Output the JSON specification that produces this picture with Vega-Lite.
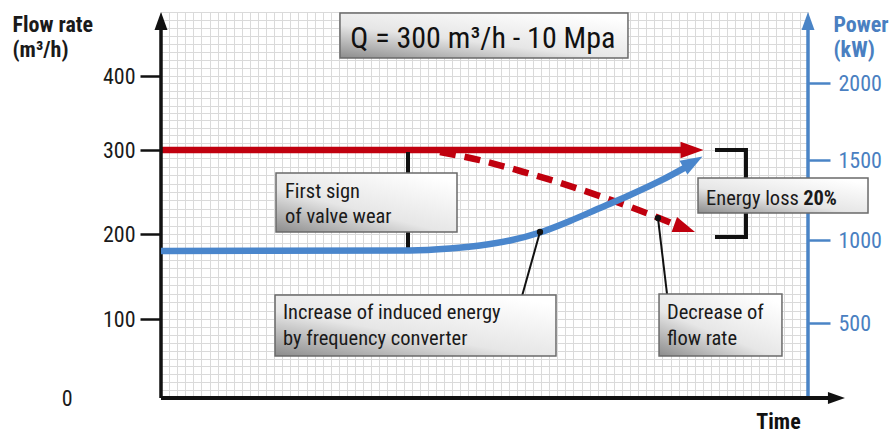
{
  "$schema": "https://vega.github.io/schema/vega-lite/v6.json",
  "width": 647,
  "height": 386,
  "autosize": {"type": "none"},
  "padding": {"left": 161, "top": 12, "right": 85, "bottom": 35},
  "background": "white",
  "config": {
    "view": {"stroke": null},
    "font": "Roboto Condensed, Liberation Sans Narrow, Arial Narrow, DejaVu Sans Condensed, sans-serif",
    "axis": {"labelFont": "Roboto Condensed, Liberation Sans Narrow, Arial Narrow, DejaVu Sans Condensed, sans-serif", "titleFont": "Roboto Condensed, Liberation Sans Narrow, Arial Narrow, DejaVu Sans Condensed, sans-serif"},
    "text": {"font": "Roboto Condensed, Liberation Sans Narrow, Arial Narrow, DejaVu Sans Condensed, sans-serif"}
  },
  "datasets": {
    "flowLine": [{"x": 0, "y": 300}, {"x": 64.3, "y": 300}],
    "flowDrop": [
      {"x": 34.5, "y": 297.6}, {"x": 39.4, "y": 288}, {"x": 44.4, "y": 275},
      {"x": 49.3, "y": 261}, {"x": 54.3, "y": 245}, {"x": 59.2, "y": 228}, {"x": 63.6, "y": 211.3}
    ],
    "power": [
      {"x": 0, "p": 934}, {"x": 30.79, "p": 937}, {"x": 35.73, "p": 949}, {"x": 39.44, "p": 967},
      {"x": 43.15, "p": 997}, {"x": 46.86, "p": 1047}, {"x": 50.57, "p": 1119}, {"x": 54.28, "p": 1200},
      {"x": 57.99, "p": 1281}, {"x": 61.7, "p": 1369}, {"x": 64.91, "p": 1456}
    ],
    "powerArrow": [{"x": 65.78, "p": 1487}],
    "wearMarker": [{"x": 30.54, "y": 297.6, "y2": 183.5}],
    "bracket": [
      {"x": 68.5, "y": 300, "step": 0}, {"x": 72.33, "y": 300, "step": 1},
      {"x": 72.33, "y": 196.5, "step": 2}, {"x": 68.5, "y": 196.5, "step": 3}
    ],
    "verticalAxes": [{"axis": "flow", "x": 0, "y": 0, "y2": 460}],
    "powerAxisLine": [{"axis": "power", "x": 80, "y": 0, "y2": 460}],
    "timeAxis": [{"x": 0, "x2": 82.6, "y": 0}],
    "arrows": [
      {"name": "flow", "x": 65.66, "y": 300},
      {"name": "drop", "x": 64.75, "y": 206.9},
      {"name": "flowAxis", "x": 0, "y": 468.75},
      {"name": "powerAxis", "x": 80, "y": 468.75},
      {"name": "time", "x": 83.52, "y": 0}
    ],
    "boxes": [
      {"box": "heading", "x": 22.13, "x2": 57.74, "y": 478.75, "y2": 422.5},
      {"box": "wear", "x": 14.22, "x2": 36.6, "y": 272.6, "y2": 202.4},
      {"box": "loss", "x": 66.4, "x2": 87.42, "y": 266.7, "y2": 225},
      {"box": "increase", "x": 14.1, "x2": 48.84, "y": 128.2, "y2": 53.2},
      {"box": "decrease", "x": 61.58, "x2": 76.78, "y": 129.4, "y2": 53.2}
    ],
    "leaders": [
      {"x": 46.86, "y": 202.4, "x2": 44.64, "y2": 127},
      {"x": 61.45, "y": 219, "x2": 62.57, "y2": 129.4}
    ],
    "dots": [{"x": 46.86, "y": 202.4}, {"x": 61.45, "y": 219}],
    "labels": [
      {"x": 15.33, "y": 242.9, "text": "First sign"},
      {"x": 15.33, "y": 213.1, "text": "of valve wear"},
      {"x": 15.08, "y": 100, "text": "Increase of induced energy"},
      {"x": 15.08, "y": 67.1, "text": "by frequency converter"},
      {"x": 62.57, "y": 100, "text": "Decrease of"},
      {"x": 62.57, "y": 67.1, "text": "flow rate"},
      {"x": 67.39, "y": 234.5, "text": "Energy loss"}
    ],
    "boldLabels": [{"x": 79.4, "y": 234.5, "text": "20%"}],
    "heading": [{"x": 39.8, "y": 435, "text": "Q = 300 m³/h - 10 Mpa"}]
  },
  "resolve": {"scale": {"y": "independent"}},
  "layer": [
    {
      "encoding": {
        "x": {
          "field": "x", "type": "quantitative",
          "scale": {"domain": [0, 80], "nice": false, "zero": false},
          "axis": {
            "orient": "bottom", "tickCount": 80, "grid": true, "gridColor": "#dadada", "gridWidth": 1,
            "labels": false, "ticks": false, "domain": false,
            "title": "Time", "titleFontSize": 22, "titleFontWeight": "bold", "titleColor": "#111111",
            "titleX": 617, "titleY": 30, "titleAlign": "center", "titleBaseline": "alphabetic"
          }
        },
        "y": {
          "field": "y", "type": "quantitative",
          "scale": {"domain": [0, 100, 200, 300, 400, 480], "range": [386, 307, 222, 138, 64, 0], "nice": false, "zero": false},
          "axis": {
            "orient": "left",
            "values": [0,10,20,30,40,50,60,70,80,90,100,110,120,130,140,150,160,170,180,190,200,210,220,230,240,250,260,270,280,290,300,310,320,330,340,350,360,370,380,390,400,410,420,430,440,450,460,470,480],
            "grid": true, "gridColor": "#dadada", "gridWidth": 1,
            "domain": false,
            "ticks": true, "tickSize": 21, "tickWidth": 2.5, "tickColor": "#111111",
            "tickOpacity": {"condition": {"test": "datum.value % 100 === 0 && datum.value > 0 && datum.value <= 400", "value": 1}, "value": 0},
            "labelExpr": "(datum.value % 100 === 0 && datum.value <= 400) ? datum.label : ''",
            "labelPadding": {"condition": {"test": "datum.value === 0", "value": 68}, "value": 5},
            "labelFontSize": 22, "labelColor": "#1a1a1a", "labelOverlap": false, "labelFlush": false,
            "title": ["Flow rate", "(m³/h)"], "titleAngle": 0, "titleX": -149, "titleY": 19,
            "titleAlign": "left", "titleBaseline": "alphabetic", "titleFontSize": 22, "titleFontWeight": "bold",
            "titleLineHeight": 25, "titleColor": "#1a1a1a"
          }
        }
      },
      "layer": [
        {"data": {"name": "flowLine"}, "mark": {"type": "line", "color": "#c0000e", "strokeWidth": 6.5, "strokeCap": "butt"}},
        {"data": {"name": "flowDrop"}, "mark": {"type": "line", "color": "#c0000e", "strokeWidth": 6.5, "strokeCap": "butt", "strokeDash": [16, 9], "interpolate": "monotone"}},
        {"data": {"name": "wearMarker"}, "mark": {"type": "rule", "color": "#111111", "strokeWidth": 4}, "encoding": {"y2": {"field": "y2"}}},
        {"data": {"name": "bracket"}, "mark": {"type": "line", "color": "#111111", "strokeWidth": 4, "strokeJoin": "miter", "strokeCap": "butt"}, "encoding": {"order": {"field": "step", "type": "quantitative"}}},
        {"data": {"name": "verticalAxes"}, "mark": {"type": "rule", "color": "#111111", "strokeWidth": 3.5}, "encoding": {"y2": {"field": "y2"}}},
        {"data": {"name": "powerAxisLine"}, "mark": {"type": "rule", "color": "#4a84c6", "strokeWidth": 3.5}, "encoding": {"y2": {"field": "y2"}}},
        {"data": {"name": "timeAxis"}, "mark": {"type": "rule", "color": "#111111", "strokeWidth": 4}, "encoding": {"x2": {"field": "x2"}}},
        {"data": {"name": "arrows"}, "transform": [{"filter": "datum.name === 'flow'"}],
         "mark": {"type": "point", "shape": "M 1 0 L -1 -0.72 L -1 0.72 Z", "filled": true, "opacity": 1, "size": 529, "angle": 0, "color": "#c0000e"}},
        {"data": {"name": "arrows"}, "transform": [{"filter": "datum.name === 'drop'"}],
         "mark": {"type": "point", "shape": "M 1 0 L -1 -0.72 L -1 0.72 Z", "filled": true, "opacity": 1, "size": 484, "angle": 20, "color": "#c0000e"}},
        {"data": {"name": "arrows"}, "transform": [{"filter": "datum.name === 'flowAxis'"}],
         "mark": {"type": "point", "shape": "M 1 0 L -1 -0.72 L -1 0.72 Z", "filled": true, "opacity": 1, "size": 324, "angle": -90, "color": "#111111"}},
        {"data": {"name": "arrows"}, "transform": [{"filter": "datum.name === 'powerAxis'"}],
         "mark": {"type": "point", "shape": "M 1 0 L -1 -0.72 L -1 0.72 Z", "filled": true, "opacity": 1, "size": 324, "angle": -90, "color": "#4a84c6"}},
        {"data": {"name": "arrows"}, "transform": [{"filter": "datum.name === 'time'"}],
         "mark": {"type": "point", "shape": "M 1 0 L -1 -0.72 L -1 0.72 Z", "filled": true, "opacity": 1, "size": 289, "angle": 0, "color": "#111111"}}
      ]
    },
    {
      "data": {"name": "power"},
      "encoding": {
        "x": {
          "field": "x", "type": "quantitative",
          "scale": {"domain": [0, 80], "nice": false, "zero": false},
          "axis": {
            "orient": "bottom", "tickCount": 80, "grid": true, "gridColor": "#dadada", "gridWidth": 1,
            "labels": false, "ticks": false, "domain": false,
            "title": "Time", "titleFontSize": 22, "titleFontWeight": "bold", "titleColor": "#111111",
            "titleX": 617, "titleY": 30, "titleAlign": "center", "titleBaseline": "alphabetic"
          }
        },
        "y": {
          "field": "p", "type": "quantitative",
          "scale": {"domain": [0, 500, 1000, 1500, 2000, 2460], "range": [391, 311, 228, 148, 71, 0], "nice": false, "zero": false},
          "axis": {
            "orient": "right", "values": [500, 1000, 1500, 2000], "format": "d",
            "grid": false, "domain": false,
            "tickSize": 22, "tickWidth": 2.5, "tickColor": "#4a84c6",
            "labelPadding": 8, "labelFontSize": 22, "labelColor": "#4a7fc1", "labelOverlap": false, "labelFlush": false,
            "title": ["Power", "(kW)"], "titleAngle": 0, "titleX": 25, "titleY": 19,
            "titleAlign": "left", "titleBaseline": "alphabetic", "titleFontSize": 22, "titleFontWeight": "bold",
            "titleLineHeight": 25, "titleColor": "#4a7fc1"
          }
        }
      },
      "layer": [
        {"mark": {"type": "line", "color": "#4a86cc", "strokeWidth": 6.5, "strokeCap": "butt", "interpolate": "monotone"}},
        {"data": {"name": "powerArrow"}, "mark": {"type": "point", "shape": "M 1 0 L -1 -0.72 L -1 0.72 Z", "filled": true, "opacity": 1, "size": 484, "angle": -30, "color": "#4a86cc"}}
      ]
    },
    {
      "encoding": {
        "x": {
          "field": "x", "type": "quantitative",
          "scale": {"domain": [0, 80], "nice": false, "zero": false},
          "axis": {
            "orient": "bottom", "tickCount": 80, "grid": true, "gridColor": "#dadada", "gridWidth": 1,
            "labels": false, "ticks": false, "domain": false,
            "title": "Time", "titleFontSize": 22, "titleFontWeight": "bold", "titleColor": "#111111",
            "titleX": 617, "titleY": 30, "titleAlign": "center", "titleBaseline": "alphabetic"
          }
        },
        "y": {
          "field": "y", "type": "quantitative",
          "scale": {"domain": [0, 100, 200, 300, 400, 480], "range": [386, 307, 222, 138, 64, 0], "nice": false, "zero": false},
          "axis": null
        }
      },
      "layer": [
        {"data": {"name": "leaders"}, "mark": {"type": "rule", "color": "#111111", "strokeWidth": 2}, "encoding": {"x2": {"field": "x2"}, "y2": {"field": "y2"}}},
        {"data": {"name": "dots"}, "mark": {"type": "point", "shape": "circle", "filled": true, "opacity": 1, "size": 40, "color": "#111111"}},
        {"data": {"name": "boxes"},
         "mark": {"type": "rect", "stroke": "#6a6a6a", "strokeWidth": 1.5,
                  "fill": {"gradient": "linear", "x1": 0, "y1": 1, "x2": 0.8, "y2": 0,
                           "stops": [{"offset": 0, "color": "#8c8c8c"}, {"offset": 0.45, "color": "#e6e6e6"}, {"offset": 1, "color": "#ffffff"}]}},
         "encoding": {"x2": {"field": "x2"}, "y2": {"field": "y2"}}},
        {"data": {"name": "labels"}, "mark": {"type": "text", "align": "left", "baseline": "alphabetic", "fontSize": 20.5, "color": "#1a1a1a"}, "encoding": {"text": {"field": "text"}}},
        {"data": {"name": "boldLabels"}, "mark": {"type": "text", "align": "left", "baseline": "alphabetic", "fontSize": 20.5, "fontWeight": "bold", "color": "#1a1a1a"}, "encoding": {"text": {"field": "text"}}},
        {"data": {"name": "heading"}, "mark": {"type": "text", "align": "center", "baseline": "alphabetic", "fontSize": 30, "color": "#111111"}, "encoding": {"text": {"field": "text"}}}
      ]
    }
  ]
}
